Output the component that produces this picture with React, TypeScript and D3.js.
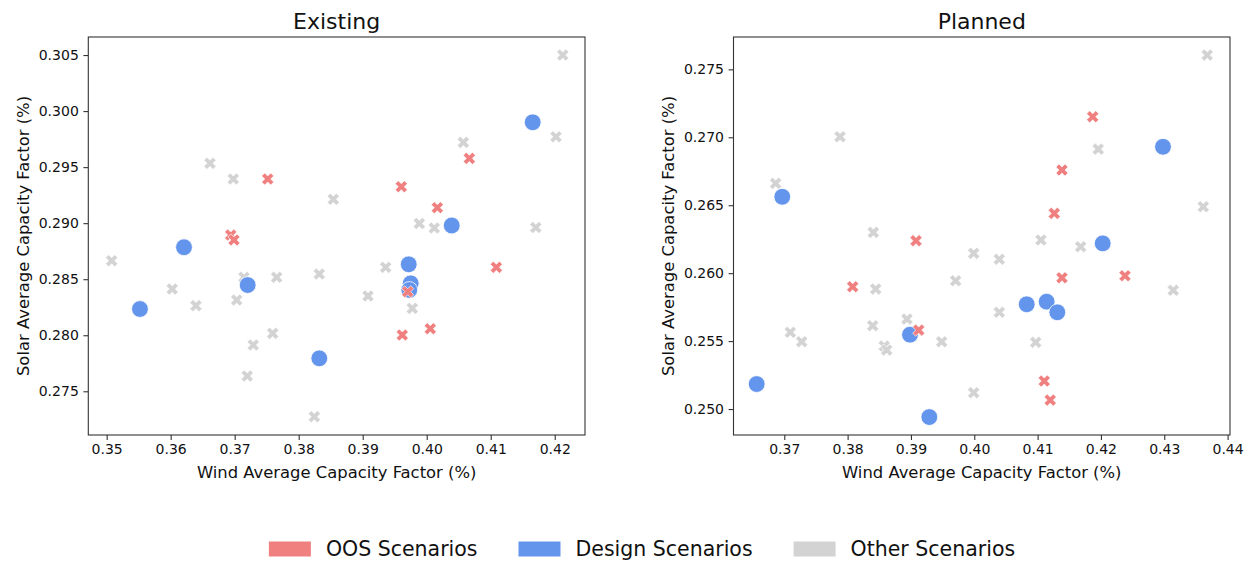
import React, { useEffect, useRef } from "react";
import * as d3 from "d3";

const WIDTH = 1252;
const HEIGHT = 563;

// ---- Existing fleet: wind vs solar average capacity factor ----
const existingOtherWind = [0.42125, 0.35078, 0.36614, 0.36978, 0.38541, 0.40572, 0.4202, 0.39884, 0.40119, 0.41705, 0.36025, 0.36395, 0.37145, 0.37031, 0.37656, 0.38322, 0.37594, 0.37291, 0.37197, 0.38244, 0.39359, 0.39083, 0.39775];
const existingOtherSolar = [0.305, 0.28665, 0.29534, 0.29394, 0.29213, 0.29721, 0.29771, 0.28997, 0.28957, 0.28961, 0.28413, 0.28264, 0.28517, 0.28314, 0.28517, 0.28546, 0.28017, 0.27913, 0.27636, 0.27273, 0.28606, 0.2835, 0.2824];
const existingDesignWind = [0.41656, 0.40391, 0.36208, 0.3552, 0.37203, 0.38322, 0.39719, 0.3975, 0.39728];
const existingDesignSolar = [0.299, 0.28979, 0.28785, 0.28234, 0.28448, 0.27794, 0.28633, 0.28463, 0.28404];
const existingOosWind = [0.37516, 0.36938, 0.36989, 0.40666, 0.39603, 0.40166, 0.41088, 0.39703, 0.39619, 0.40056];
const existingOosSolar = [0.29394, 0.28894, 0.2885, 0.29578, 0.29325, 0.29138, 0.28606, 0.28388, 0.28002, 0.28058];

// ---- Planned fleet ----
const plannedOtherWind = [0.43679, 0.41958, 0.43616, 0.3788, 0.36864, 0.38405, 0.39991, 0.39706, 0.38443, 0.38937, 0.38396, 0.37095, 0.37275, 0.38579, 0.38617, 0.39485, 0.39991, 0.41053, 0.4168, 0.40395, 0.43142, 0.40395, 0.4097];
const plannedOtherSolar = [0.27605, 0.26913, 0.26489, 0.27004, 0.26661, 0.263, 0.26146, 0.25944, 0.25883, 0.25662, 0.25613, 0.25565, 0.25495, 0.25464, 0.25434, 0.25495, 0.2512, 0.26244, 0.26194, 0.26102, 0.25874, 0.25712, 0.25491];
const plannedDesignWind = [0.4298, 0.36968, 0.36564, 0.38985, 0.3929, 0.42028, 0.40828, 0.41143, 0.41311];
const plannedDesignSolar = [0.2693, 0.26562, 0.25184, 0.25547, 0.24941, 0.26219, 0.25771, 0.2579, 0.25712];
const plannedOosWind = [0.4187, 0.41385, 0.41263, 0.3908, 0.3808, 0.39122, 0.41385, 0.4238, 0.41105, 0.412];
const plannedOosSolar = [0.27151, 0.26759, 0.2644, 0.26239, 0.259, 0.25581, 0.25966, 0.25981, 0.25206, 0.25066];

// ---- Axis limits and ticks ----
const existingWindLim = [0.34713, 0.42473];
const existingSolarLim = [0.2711, 0.30661];
const existingWindTicks = [0.35, 0.36, 0.37, 0.38, 0.39, 0.4, 0.41, 0.42];
const existingSolarTicks = [0.275, 0.28, 0.285, 0.29, 0.295, 0.3, 0.305];

const plannedWindLim = [0.36198, 0.44038];
const plannedSolarLim = [0.24809, 0.27738];
const plannedWindTicks = [0.37, 0.38, 0.39, 0.4, 0.41, 0.42, 0.43, 0.44];
const plannedSolarTicks = [0.25, 0.255, 0.26, 0.265, 0.27, 0.275];

const legendLabels = ["OOS Scenarios", "Design Scenarios", "Other Scenarios"];
const COLORS = { oos: "#F08080", design: "#6495ED", other: "#D3D3D3" };

const FONT = "'DejaVu Sans', sans-serif";

type Panel = {
  title: string;
  left: number;
  right: number;
  xLim: number[];
  yLim: number[];
  xTicks: number[];
  yTicks: number[];
  other: [number[], number[]];
  design: [number[], number[]];
  oos: [number[], number[]];
};

const panels: Panel[] = [
  {
    title: "Existing",
    left: 88.3,
    right: 585,
    xLim: existingWindLim,
    yLim: existingSolarLim,
    xTicks: existingWindTicks,
    yTicks: existingSolarTicks,
    other: [existingOtherWind, existingOtherSolar],
    design: [existingDesignWind, existingDesignSolar],
    oos: [existingOosWind, existingOosSolar],
  },
  {
    title: "Planned",
    left: 733.5,
    right: 1230,
    xLim: plannedWindLim,
    yLim: plannedSolarLim,
    xTicks: plannedWindTicks,
    yTicks: plannedSolarTicks,
    other: [plannedOtherWind, plannedOtherSolar],
    design: [plannedDesignWind, plannedDesignSolar],
    oos: [plannedOosWind, plannedOosSolar],
  },
];

const TOP = 37;
const BOTTOM = 435;

export default function App() {
  const ref = useRef<SVGSVGElement>(null);

  useEffect(() => {
    const svg = d3.select(ref.current);
    svg.selectAll("*").remove();
    svg.append("rect").attr("width", WIDTH).attr("height", HEIGHT).attr("fill", "#fff");

    const crossPath = d3.symbol(d3.symbolCross, 92)() as string;

    panels.forEach((p) => {
      const x = d3.scaleLinear().domain(p.xLim).range([p.left, p.right]);
      const y = d3.scaleLinear().domain(p.yLim).range([BOTTOM, TOP]);
      const g = svg.append("g");

      // x axis
      const xAxis = d3
        .axisBottom(x)
        .tickValues(p.xTicks)
        .tickFormat(d3.format(".2f"))
        .tickSize(4.9)
        .tickPadding(4.6);
      const gx = g.append("g").attr("transform", `translate(0,${BOTTOM})`).call(xAxis);
      gx.select(".domain").remove();
      gx.selectAll("line").attr("stroke", "#333").attr("stroke-width", 1.1);
      gx.selectAll("text").attr("font-family", FONT).attr("font-size", 14).attr("fill", "#111");

      // y axis
      const yAxis = d3
        .axisLeft(y)
        .tickValues(p.yTicks)
        .tickFormat(d3.format(".3f"))
        .tickSize(4.9)
        .tickPadding(4.6);
      const gy = g.append("g").attr("transform", `translate(${p.left},0)`).call(yAxis);
      gy.select(".domain").remove();
      gy.selectAll("line").attr("stroke", "#333").attr("stroke-width", 1.1);
      gy.selectAll("text").attr("font-family", FONT).attr("font-size", 14).attr("fill", "#111");

      // points: other, then design, then OOS on top
      const crosses = (xs: number[], ys: number[], color: string) =>
        g
          .append("g")
          .selectAll("path")
          .data(xs.map((v, i) => [v, ys[i]]))
          .join("path")
          .attr("d", crossPath)
          .attr("transform", (d) => `translate(${x(d[0])},${y(d[1])}) rotate(45)`)
          .attr("fill", color)
          .attr("stroke", "#fff")
          .attr("stroke-width", 0.6);

      crosses(p.other[0], p.other[1], COLORS.other);

      g.append("g")
        .selectAll("circle")
        .data(p.design[0].map((v, i) => [v, p.design[1][i]]))
        .join("circle")
        .attr("cx", (d) => x(d[0]))
        .attr("cy", (d) => y(d[1]))
        .attr("r", 8.4)
        .attr("fill", COLORS.design)
        .attr("stroke", "#fff")
        .attr("stroke-width", 0.8);

      crosses(p.oos[0], p.oos[1], COLORS.oos);

      // frame
      g.append("rect")
        .attr("x", p.left)
        .attr("y", TOP)
        .attr("width", p.right - p.left)
        .attr("height", BOTTOM - TOP)
        .attr("fill", "none")
        .attr("stroke", "#333")
        .attr("stroke-width", 1.1);

      const cx = (p.left + p.right) / 2;
      g.append("text")
        .attr("x", cx)
        .attr("y", 29)
        .attr("text-anchor", "middle")
        .attr("font-family", FONT)
        .attr("font-size", 22)
        .attr("fill", "#111")
        .text(p.title);

      g.append("text")
        .attr("x", cx)
        .attr("y", 478)
        .attr("text-anchor", "middle")
        .attr("font-family", FONT)
        .attr("font-size", 16.4)
        .attr("fill", "#111")
        .text("Wind Average Capacity Factor (%)");

      const ly = (TOP + BOTTOM) / 2;
      const lx = p.left - 59.5;
      g.append("text")
        .attr("transform", `translate(${lx},${ly}) rotate(-90)`)
        .attr("text-anchor", "middle")
        .attr("font-family", FONT)
        .attr("font-size", 16.4)
        .attr("fill", "#111")
        .text("Solar Average Capacity Factor (%)");
    });

    // legend, laid out left to right and centred under the panels
    const legendColors = [COLORS.oos, COLORS.design, COLORS.other];
    const fs = 20.5;
    const handleW = 42;
    const handleH = 15;
    const textPad = 15;
    const colSpace = 41;
    const lg = svg.append("g");
    const items = legendLabels.map((label, i) => {
      const item = lg.append("g");
      item.append("rect").attr("width", handleW).attr("height", handleH).attr("y", -handleH / 2).attr("fill", legendColors[i]);
      const t = item
        .append("text")
        .attr("x", handleW + textPad)
        .attr("y", 0)
        .attr("dy", "0.36em")
        .attr("font-family", FONT)
        .attr("font-size", fs)
        .attr("fill", "#111")
        .text(label);
      const w = (t.node() as SVGTextElement).getComputedTextLength();
      return { item, w: handleW + textPad + w };
    });
    const total = d3.sum(items, (d) => d.w) + colSpace * (items.length - 1);
    let cursor = 642 - total / 2;
    items.forEach((d) => {
      d.item.attr("transform", `translate(${cursor},549)`);
      cursor += d.w + colSpace;
    });
  }, []);

  return (
    <svg
      ref={ref}
      width={WIDTH}
      height={HEIGHT}
      style={{ position: "absolute", left: 0, top: 0, display: "block" }}
    />
  );
}
